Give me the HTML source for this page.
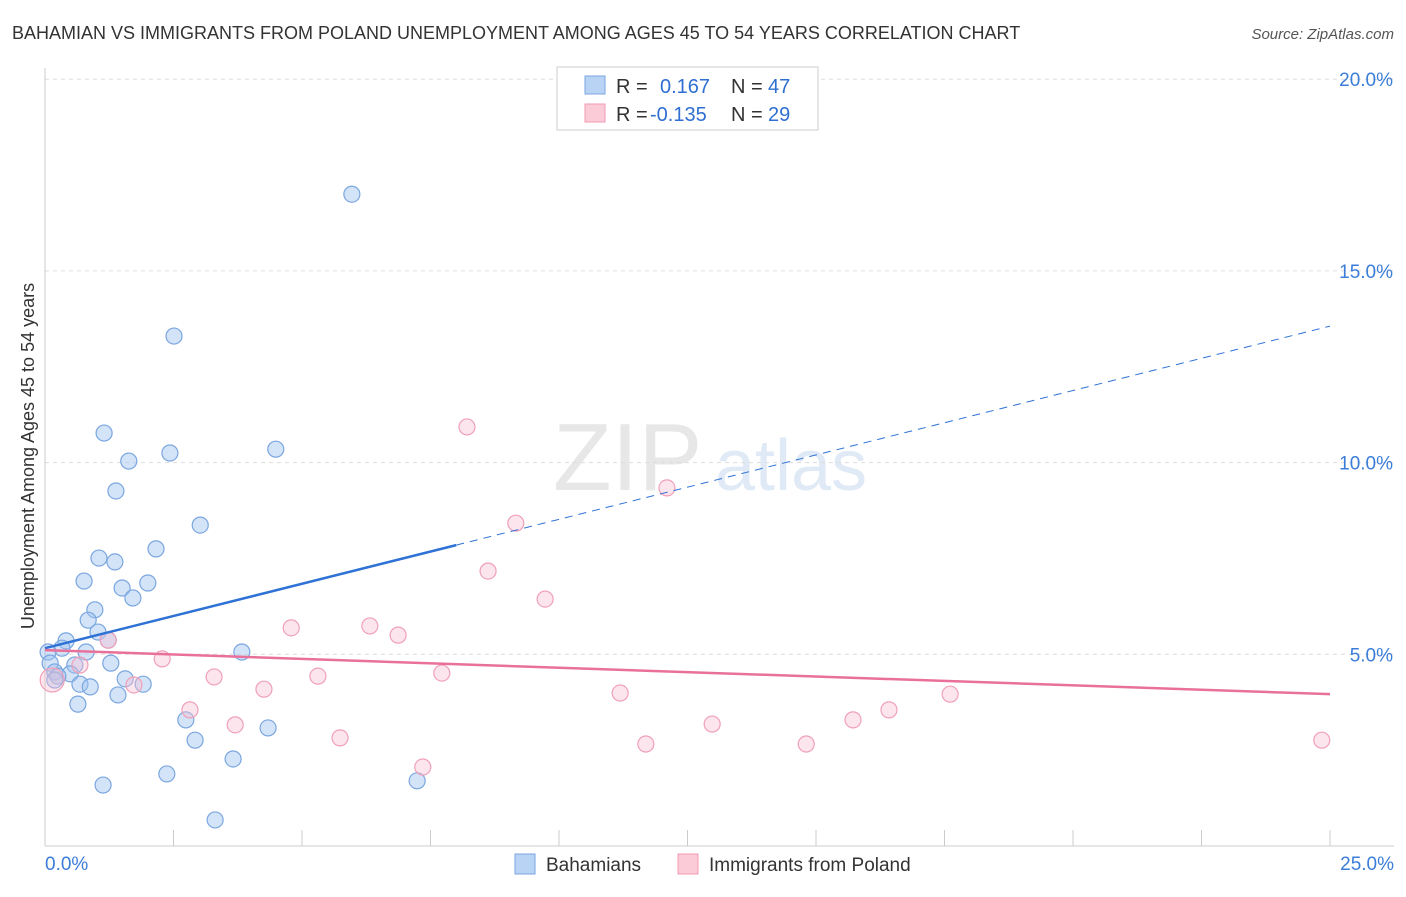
<!DOCTYPE html>
<html><head><meta charset="utf-8"><style>
body{margin:0;background:#fff;font-family:"Liberation Sans",sans-serif;}
svg text{font-family:"Liberation Sans",sans-serif;}
</style></head><body>
<svg id="chart" width="1406" height="892" viewBox="0 0 1406 892" xmlns="http://www.w3.org/2000/svg">
<text x="12" y="39" font-size="18" fill="#333">BAHAMIAN VS IMMIGRANTS FROM POLAND UNEMPLOYMENT AMONG AGES 45 TO 54 YEARS CORRELATION CHART</text>
<text x="1394" y="39" font-size="15" fill="#555" text-anchor="end" font-style="italic">Source: ZipAtlas.com</text>
<g opacity="0.35">
<text x="553" y="490" font-size="96" fill="#bbb" font-family="Liberation Serif">ZIP</text>
<text x="715" y="490" font-size="72" fill="#a9c4e6">atlas</text>
</g>
<g id="grid"></g>
<g id="axes"></g>
<g id="pts"></g>
<g id="trend"></g>
<text transform="translate(34,456) rotate(-90)" font-size="18" fill="#333" text-anchor="middle">Unemployment Among Ages 45 to 54 years</text>
<g>
<rect x="557" y="67" width="261" height="63" fill="#fff" stroke="#ccc"/>
<rect x="585" y="76" width="20" height="18" fill="#b9d3f5" stroke="#7aa6e0"/>
<rect x="585" y="104" width="20" height="18" fill="#fbcbd8" stroke="#f09ab3"/>
<text x="616" y="93" font-size="20" fill="#333">R = </text><text x="660" y="93" font-size="20" fill="#2f6fd1">0.167</text>
<text x="731" y="93" font-size="20" fill="#333">N = </text><text x="768" y="93" font-size="20" fill="#2f6fd1">47</text>
<text x="616" y="121" font-size="20" fill="#333">R = </text><text x="650" y="121" font-size="20" fill="#2f6fd1">-0.135</text>
<text x="731" y="121" font-size="20" fill="#333">N = </text><text x="768" y="121" font-size="20" fill="#2f6fd1">29</text>
</g>
<g>
<rect x="515" y="854" width="20" height="20" fill="#b9d3f5" stroke="#7aa6e0"/>
<text x="546" y="871" font-size="19" fill="#333">Bahamians</text>
<rect x="678" y="854" width="20" height="20" fill="#fbcbd8" stroke="#f09ab3"/>
<text x="709" y="871" font-size="19" fill="#333">Immigrants from Poland</text>
</g>
</svg>
<script>
const yTicks=[5,10,15,20];
const yTickLabels=["5.0%","10.0%","15.0%","20.0%"];
const xTickLabels=["0.0%","25.0%"];
const blueX=[5.97,2.51,1.15,2.43,1.63,4.49,1.38,3.02,2.16,1.05,1.36,0.76,2.00,1.50,1.71,0.97,0.84,1.03,0.41,1.23,0.33,0.80,3.83,0.06,0.10,1.28,0.58,0.19,0.49,0.25,0.68,0.88,1.91,1.56,1.42,0.64,2.74,2.92,4.34,3.66,2.37,1.13,7.24,3.31,0.19];
const blueY=[17.0,13.3,10.77,10.25,10.04,10.35,9.26,8.37,7.75,7.51,7.41,6.91,6.86,6.73,6.47,6.16,5.89,5.58,5.35,5.37,5.16,5.06,5.06,5.06,4.77,4.77,4.72,4.54,4.49,4.43,4.22,4.15,4.22,4.36,3.94,3.70,3.29,2.76,3.08,2.27,1.88,1.59,1.70,0.68,4.33];
const pinkX=[8.21,12.10,9.16,8.62,9.73,4.79,6.32,6.87,1.23,2.28,0.68,3.29,5.31,7.72,4.26,1.73,2.82,3.70,11.19,12.98,15.72,16.42,17.61,11.69,14.81,5.74,7.35,24.84,0.14];
const pinkY=[10.93,9.34,8.42,7.17,6.44,5.69,5.74,5.50,5.37,4.88,4.72,4.41,4.43,4.51,4.09,4.20,3.55,3.16,3.99,3.18,3.29,3.55,3.96,2.66,2.66,2.82,2.06,2.76,4.33];
const blueTrend=[5.16,13.56]; const blueSolidEnd=8.0;
const pinkTrend=[5.11,3.96];
const ns="http://www.w3.org/2000/svg";
const X=v=>45+v/25*1285, Y=v=>846-v/5*191.7;
function mk(t,a,p){const e=document.createElementNS(ns,t);for(const k in a)e.setAttribute(k,a[k]);p.appendChild(e);return e;}
const g=document.getElementById('grid'),ax=document.getElementById('axes'),pts=document.getElementById('pts'),tr=document.getElementById('trend');
yTicks.forEach((v,i)=>{
 const l=mk('line',{x1:45,x2:1394,y1:Y(v),y2:Y(v),stroke:'#ddd','stroke-dasharray':'4,4'},g);
 
 
 const t=mk('text',{x:1393,y:Y(v)+7,'font-size':19,fill:'#3b7dd8','text-anchor':'end'},ax);t.textContent=yTickLabels[i];
 
 
});
mk('line',{x1:45,x2:45,y1:68,y2:846,stroke:'#ccc'},ax);
mk('line',{x1:45,x2:1394,y1:846,y2:846,stroke:'#ccc'},ax);
for(let i=0;i<=10;i++){mk('line',{x1:X(i*2.5),x2:X(i*2.5),y1:830,y2:846,stroke:'#ccc'},ax);}
let t0=mk('text',{x:45,y:870,'font-size':19,fill:'#3b7dd8'},ax);t0.textContent=xTickLabels[0];


let t1=mk('text',{x:1394,y:870,'font-size':19,fill:'#3b7dd8','text-anchor':'end'},ax);t1.textContent=xTickLabels[1];


blueX.forEach((v,i)=>{const c=mk('circle',{cx:X(v),cy:Y(blueY[i]),r:8,fill:'rgba(160,195,240,0.45)',stroke:'#7aa6e0','stroke-width':1.2},pts);
 
 });
pinkX.forEach((v,i)=>{const c=mk('circle',{cx:X(v),cy:Y(pinkY[i]),r:i==pinkX.length-1?12:8,fill:'rgba(248,190,210,0.4)',stroke:'#f0a0b8','stroke-width':1.2},pts);
 
 });
const bAt=x=>blueTrend[0]+(blueTrend[1]-blueTrend[0])*x/25;
let b1=mk('line',{x1:X(0),y1:Y(bAt(0)),x2:X(blueSolidEnd),y2:Y(bAt(blueSolidEnd)),stroke:'#2f72d6','stroke-width':2.5},tr);


let b2=mk('line',{x1:X(blueSolidEnd),y1:Y(bAt(blueSolidEnd)),x2:X(25),y2:Y(bAt(25)),stroke:'#2f72d6','stroke-width':1,'stroke-dasharray':'8,6'},tr);


let p1=mk('line',{x1:X(0),y1:Y(pinkTrend[0]),x2:X(25),y2:Y(pinkTrend[1]),stroke:'#e8709a','stroke-width':2.5},tr);


</script>
</body></html>
